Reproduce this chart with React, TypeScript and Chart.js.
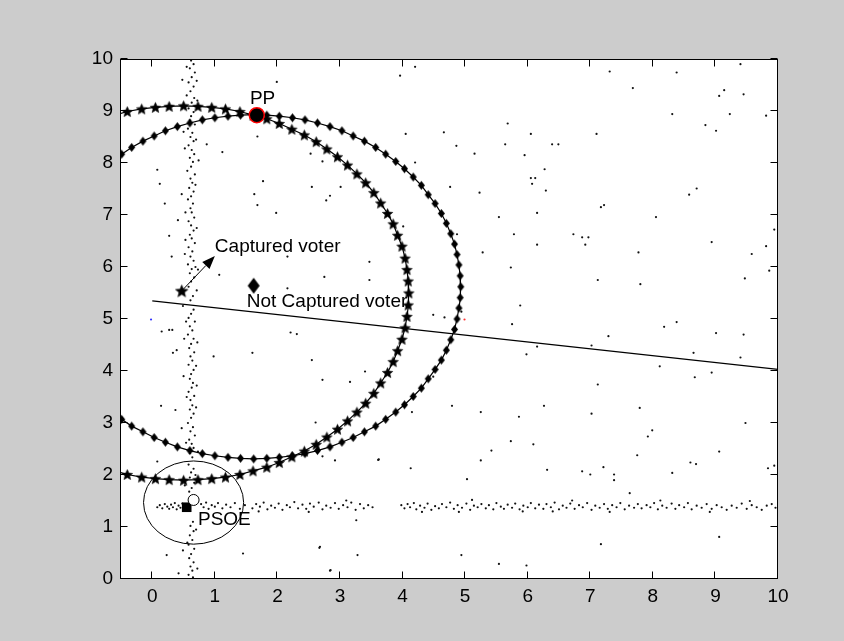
import { useEffect, useRef } from 'react';
import { Chart, registerables } from 'chart.js';

Chart.register(...registerables);

type P = [number, number];

const xTicks = [0, 1, 2, 3, 4, 5, 6, 7, 8, 9, 10];
const yTicks = [0, 1, 2, 3, 4, 5, 6, 7, 8, 9, 10];
const xRange: P = [-0.5, 10];
const yRange: P = [0, 10];

// PP indifference curve (pentagram markers)
const starCurve: P[] = [
  [-0.61, 8.92], [-0.40, 8.99], [-0.17, 9.04], [0.05, 9.07], [0.27, 9.09], [0.50, 9.10], [0.73, 9.09],
  [0.95, 9.07], [1.17, 9.04], [1.40, 8.99], [1.61, 8.92], [1.83, 8.85], [2.03, 8.76], [2.23, 8.65],
  [2.43, 8.54], [2.62, 8.41], [2.79, 8.27], [2.96, 8.12], [3.12, 7.96], [3.27, 7.79], [3.41, 7.62],
  [3.54, 7.43], [3.65, 7.23], [3.76, 7.03], [3.85, 6.83], [3.92, 6.61], [3.99, 6.40], [4.04, 6.17],
  [4.07, 5.95], [4.09, 5.73], [4.10, 5.50], [4.09, 5.27], [4.07, 5.05], [4.04, 4.83], [3.99, 4.61],
  [3.92, 4.39], [3.85, 4.18], [3.76, 3.97], [3.65, 3.77], [3.54, 3.57], [3.41, 3.38], [3.27, 3.21],
  [3.12, 3.04], [2.96, 2.88], [2.79, 2.73], [2.62, 2.59], [2.43, 2.46], [2.23, 2.35], [2.03, 2.24],
  [1.83, 2.15], [1.61, 2.08], [1.40, 2.01], [1.17, 1.96], [0.95, 1.93], [0.73, 1.91], [0.50, 1.90],
  [0.27, 1.91], [0.05, 1.93], [-0.17, 1.96], [-0.40, 2.01], [-0.61, 2.08],
];

// second curve (diamond markers)
const diamondCurve: P[] = [
  [-0.65, 8.03], [-0.49, 8.17], [-0.33, 8.30], [-0.15, 8.42], [0.03, 8.52], [0.21, 8.62], [0.40, 8.70],
  [0.60, 8.77], [0.80, 8.83], [1.00, 8.87], [1.21, 8.90], [1.41, 8.92], [1.62, 8.93], [1.83, 8.92],
  [2.03, 8.90], [2.24, 8.87], [2.44, 8.83], [2.64, 8.77], [2.84, 8.70], [3.03, 8.62], [3.21, 8.52],
  [3.39, 8.42], [3.57, 8.30], [3.73, 8.17], [3.89, 8.03], [4.03, 7.89], [4.17, 7.73], [4.30, 7.57],
  [4.41, 7.39], [4.52, 7.22], [4.62, 7.03], [4.70, 6.84], [4.77, 6.64], [4.83, 6.44], [4.87, 6.24],
  [4.90, 6.04], [4.92, 5.83], [4.93, 5.62], [4.92, 5.41], [4.90, 5.21], [4.87, 5.00], [4.83, 4.80],
  [4.77, 4.60], [4.70, 4.40], [4.62, 4.21], [4.52, 4.03], [4.41, 3.85], [4.30, 3.67], [4.17, 3.51],
  [4.03, 3.35], [3.89, 3.21], [3.73, 3.07], [3.57, 2.94], [3.39, 2.83], [3.21, 2.72], [3.03, 2.63],
  [2.84, 2.54], [2.64, 2.47], [2.44, 2.41], [2.24, 2.37], [2.03, 2.34], [1.83, 2.32], [1.62, 2.31],
  [1.41, 2.32], [1.21, 2.34], [1.00, 2.37], [0.80, 2.41], [0.60, 2.47], [0.40, 2.54], [0.21, 2.63],
  [0.03, 2.72], [-0.15, 2.83], [-0.33, 2.94], [-0.49, 3.07], [-0.65, 3.21],
];

const splitLine: P[] = [[0, 5.35], [10, 4.03]];

const verticalBandVoters: P[] = [
  [0.62, 9.97], [0.66, 9.9], [0.60, 9.82], [0.68, 9.74], [0.63, 9.65], [0.58, 9.55], [0.66, 9.47],
  [0.61, 9.38], [0.55, 9.3], [0.67, 9.25], [0.63, 9.16], [0.58, 9.05], [0.66, 8.98], [0.62, 8.9],
  [0.60, 8.82], [0.68, 8.74], [0.57, 8.66], [0.64, 8.58], [0.61, 8.5], [0.66, 8.42], [0.58, 8.34],
  [0.63, 8.25], [0.67, 8.17], [0.60, 8.1], [0.65, 8.02], [0.62, 7.93], [0.56, 7.85], [0.68, 7.78],
  [0.61, 7.7], [0.64, 7.62], [0.59, 7.52], [0.66, 7.45], [0.62, 7.36], [0.57, 7.3], [0.65, 7.22],
  [0.61, 7.13], [0.63, 7.05], [0.67, 6.95], [0.58, 6.88], [0.62, 6.8], [0.66, 6.7], [0.60, 6.62],
  [0.63, 6.55], [0.68, 6.46], [0.58, 6.38], [0.64, 6.3], [0.61, 6.2], [0.66, 6.12], [0.57, 6.05],
  [0.63, 5.96], [0.60, 5.88], [0.67, 5.8], [0.62, 5.72], [0.58, 5.62], [0.65, 5.44], [0.61, 5.36],
  [0.66, 5.18], [0.62, 5.1], [0.58, 5.02], [0.68, 4.95], [0.60, 4.86], [0.64, 4.78], [0.57, 4.7],
  [0.66, 4.62], [0.62, 4.52], [0.59, 4.44], [0.67, 4.36], [0.61, 4.28], [0.64, 4.2], [0.58, 4.12],
  [0.66, 4.02], [0.62, 3.94], [0.60, 3.85], [0.65, 3.77], [0.63, 3.68], [0.58, 3.6], [0.67, 3.52],
  [0.61, 3.44], [0.64, 3.34], [0.60, 3.26], [0.66, 3.18], [0.62, 3.1], [0.57, 3.0], [0.65, 2.92],
  [0.61, 2.84], [0.68, 2.76], [0.59, 2.68], [0.63, 2.6], [0.66, 2.52], [0.60, 2.42], [0.64, 2.34],
  [0.58, 2.2], [0.66, 2.12], [0.62, 2.05], [0.60, 1.95], [0.67, 1.85], [0.63, 1.75], [0.59, 1.68],
  [0.65, 1.1], [0.61, 1.02], [0.66, 0.92], [0.60, 0.84], [0.64, 0.75], [0.58, 0.66], [0.67, 0.58],
  [0.62, 0.48], [0.59, 0.4], [0.66, 0.32], [0.61, 0.24], [0.64, 0.16], [0.58, 0.08], [0.65, 0.03],
  [0.48, 9.6], [0.72, 9.2], [0.5, 8.6], [0.74, 8.05], [0.47, 7.4], [0.71, 6.75], [0.52, 6.25],
  [0.73, 5.95], [0.49, 5.25], [0.72, 4.55], [0.5, 3.9], [0.7, 3.3], [0.47, 2.9], [0.73, 2.45],
  [0.52, 1.8], [0.7, 0.95], [0.49, 0.55], [0.72, 0.2], [0.55, 9.85], [0.7, 8.45], [0.53, 7.05],
  [0.69, 6.0], [0.54, 4.95], [0.7, 4.1], [0.55, 3.5], [0.69, 2.0], [0.56, 0.7], [0.71, 9.58],
  [0.52, 8.28], [0.69, 7.58], [0.53, 6.52], [0.71, 5.55], [0.51, 4.62], [0.71, 3.72], [0.54, 2.62],
];

const horizontalBandVoters: P[] = [
  [0.08, 1.38], [0.12, 1.42], [0.16, 1.36], [0.2, 1.44], [0.24, 1.39], [0.27, 1.35], [0.3, 1.43],
  [0.33, 1.38], [0.36, 1.46], [0.39, 1.34], [0.42, 1.41], [0.45, 1.37], [0.48, 1.45], [0.51, 1.33],
  [0.78, 1.44], [0.82, 1.38], [0.86, 1.47], [0.9, 1.35], [0.95, 1.42], [1.0, 1.39], [1.05, 1.46],
  [1.12, 1.36], [1.18, 1.43], [1.25, 1.38], [1.32, 1.46], [1.4, 1.35], [1.48, 1.42],
  [1.6, 1.36], [1.66, 1.44], [1.72, 1.39], [1.78, 1.47], [1.84, 1.34], [1.9, 1.41], [1.96, 1.37],
  [2.02, 1.45], [2.08, 1.33], [2.15, 1.42], [2.2, 1.38], [2.27, 1.48], [2.33, 1.36], [2.4, 1.43],
  [2.46, 1.35], [2.52, 1.45], [2.58, 1.39], [2.66, 1.47], [2.72, 1.34], [2.78, 1.41], [2.85, 1.37],
  [2.92, 1.46], [2.98, 1.35], [3.05, 1.42], [3.12, 1.38], [3.18, 1.47], [3.25, 1.33], [3.32, 1.44],
  [3.38, 1.36], [3.45, 1.42], [3.52, 1.38],
  [3.98, 1.42], [4.03, 1.36], [4.08, 1.44], [4.12, 1.38], [4.18, 1.46], [4.22, 1.34], [4.28, 1.41],
  [4.35, 1.37], [4.4, 1.45], [4.46, 1.33], [4.52, 1.4], [4.58, 1.36], [4.63, 1.44], [4.7, 1.38],
  [4.76, 1.47], [4.82, 1.35], [4.88, 1.42], [4.95, 1.37], [5.02, 1.45], [5.08, 1.33], [5.14, 1.41],
  [5.2, 1.38], [5.26, 1.44], [5.33, 1.36], [5.38, 1.42], [5.45, 1.34], [5.5, 1.46], [5.57, 1.39],
  [5.62, 1.35], [5.68, 1.43], [5.75, 1.37], [5.8, 1.45], [5.87, 1.34], [5.93, 1.41], [6.0, 1.38],
  [6.05, 1.46], [6.12, 1.36], [6.18, 1.43], [6.25, 1.35], [6.3, 1.44], [6.37, 1.38], [6.43, 1.47],
  [6.5, 1.34], [6.56, 1.41], [6.62, 1.37], [6.68, 1.45], [6.75, 1.35], [6.82, 1.42], [6.88, 1.38],
  [6.95, 1.46], [7.02, 1.33], [7.08, 1.41], [7.15, 1.37], [7.22, 1.44], [7.28, 1.35], [7.35, 1.42],
  [7.42, 1.38], [7.48, 1.46], [7.55, 1.34], [7.62, 1.41], [7.7, 1.37], [7.76, 1.44], [7.82, 1.36],
  [7.9, 1.42], [7.96, 1.38], [8.02, 1.46], [8.08, 1.34], [8.15, 1.41], [8.22, 1.37], [8.3, 1.45],
  [8.36, 1.35], [8.42, 1.42], [8.5, 1.38], [8.56, 1.46], [8.62, 1.34], [8.7, 1.41], [8.78, 1.37],
  [8.86, 1.44], [8.94, 1.35], [9.02, 1.42], [9.1, 1.38], [9.18, 1.33], [9.26, 1.41], [9.34, 1.37],
  [9.42, 1.45], [9.5, 1.35], [9.58, 1.42], [9.66, 1.38], [9.74, 1.33], [9.82, 1.41], [9.9, 1.44],
  [9.96, 1.37], [2.5, 1.29], [3.1, 1.51], [4.31, 1.29], [5.11, 1.52], [5.92, 1.3], [6.71, 1.51],
  [7.31, 1.29], [8.12, 1.51], [8.91, 1.29], [9.55, 1.5], [1.7, 1.3], [4.9, 1.29], [6.4, 1.3],
];

const scatteredVoters: P[] = [
  [7.31, 9.76], [8.38, 9.74], [7.68, 9.44], [9.40, 9.90], [9.14, 9.40], [9.06, 9.29], [9.45, 9.32],
  [8.31, 8.94], [9.23, 8.94], [9.81, 8.91], [8.84, 8.73], [9.01, 8.62], [5.68, 8.76], [6.05, 8.56],
  [5.64, 8.36], [6.39, 8.36], [6.49, 8.36], [7.10, 8.56], [5.95, 8.15], [6.27, 7.88], [6.05, 7.71],
  [6.12, 7.71], [6.07, 7.60], [6.29, 7.47], [6.15, 7.04], [5.54, 6.96], [7.17, 7.15], [7.22, 7.19],
  [8.05, 6.96], [8.58, 7.39], [8.70, 7.51], [5.28, 6.28], [5.78, 6.63], [6.15, 6.43], [6.73, 6.63],
  [6.87, 6.57], [6.97, 6.57], [6.92, 6.43], [7.77, 6.28], [8.94, 6.48], [9.94, 6.72], [9.81, 6.40],
  [9.58, 6.25], [9.86, 5.93], [9.47, 5.78], [5.73, 5.99], [7.12, 5.75], [7.80, 5.67], [5.88, 5.26],
  [5.75, 4.90], [8.38, 4.94], [8.18, 4.85], [7.29, 4.67], [9.01, 4.73], [9.45, 4.70], [6.15, 4.47],
  [5.98, 4.32], [7.02, 4.49], [8.65, 4.35], [9.40, 4.26], [8.11, 4.09], [8.94, 3.97], [8.67, 3.88],
  [7.12, 3.74], [6.26, 3.33], [5.86, 3.12], [7.02, 3.18], [7.79, 3.29], [5.73, 2.65], [6.09, 2.59],
  [7.99, 2.86], [7.92, 2.74], [9.48, 3.00], [7.75, 2.38], [9.06, 2.45], [6.31, 2.10], [6.87, 2.07],
  [7.0, 2.01], [7.21, 2.15], [7.38, 2.01], [7.38, 1.90], [7.63, 1.65], [8.31, 2.04], [8.60, 2.24],
  [8.69, 2.21], [9.84, 2.13], [9.94, 2.18], [9.06, 0.81], [7.17, 0.67], [5.98, 0.26],
  [2.72, 3.83], [3.16, 3.79], [4.79, 3.33], [4.15, 3.21], [5.25, 3.21], [2.61, 3.01], [5.42, 2.47],
  [2.72, 2.36], [2.92, 2.28], [3.62, 2.30], [5.25, 2.28], [4.13, 2.13], [5.03, 1.92], [3.26, 1.13],
  [2.67, 0.60], [3.28, 0.46], [1.45, 0.49], [4.94, 0.46], [5.54, 0.29], [2.84, 0.16],
  [1.99, 9.56], [3.96, 9.68], [4.20, 9.85], [1.68, 8.51], [4.05, 8.56], [4.66, 8.59], [4.86, 8.33],
  [5.15, 8.18], [2.53, 8.18], [2.72, 8.03], [4.20, 8.01], [1.77, 7.65], [2.55, 7.54], [3.01, 7.54],
  [1.63, 7.40], [2.84, 7.37], [2.78, 7.28], [1.68, 7.19], [1.98, 7.04], [4.76, 7.54], [5.23, 7.43],
  [4.01, 6.78], [4.87, 6.63], [0.87, 8.36], [1.12, 8.21], [0.08, 7.87], [0.12, 7.60], [0.20, 7.22],
  [0.41, 6.90], [0.27, 6.60], [0.31, 6.20], [1.07, 5.85], [2.16, 6.20], [2.75, 5.81], [3.47, 6.10],
  [3.47, 5.75], [2.16, 5.59], [0.15, 4.76], [0.27, 4.79], [0.32, 4.79], [0.33, 4.35], [0.39, 4.40],
  [0.98, 4.28], [1.60, 4.35], [2.21, 4.74], [2.31, 4.71], [2.55, 4.21], [3.40, 3.99], [0.14, 3.33],
  [0.37, 3.25], [0.08, 2.26], [0.23, 0.46], [0.42, 0.11], [2.68, 0.62], [2.85, 0.17], [4.49, 5.08],
  [4.67, 5.03], [4.94, 5.14], [4.49, 3.89], [3.61, 2.29],
];
const blueVoter: P[] = [[-0.02, 4.99]];
const redVoter: P[] = [[4.99, 4.99]];

const ppPosition: P[] = [[1.67, 8.92]];
const psoePosition: P[] = [[0.66, 1.52]];
const psoeVoter: P[] = [[0.55, 1.38]];
const psoeCircleCenter: P = [0.66, 1.47];
const psoeCircleRadius = 0.8;
const capturedVoter: P[] = [[0.47, 5.54]];
const capturedArrowTip: P = [1.0, 6.21];
const notCapturedVoter: P[] = [[1.62, 5.64]];

const labelTexts = ['PP', 'PSOE', 'Captured voter', 'Not Captured voter'];
const labelAnchors: P[] = [[1.56, 9.23], [0.73, 1.14], [1.0, 6.39], [1.51, 5.33]];

const toXY = (a: P[]) => a.map(([x, y]) => ({ x, y }));

function makeStar(outer: number, inner: number): HTMLCanvasElement {
  const size = Math.ceil(outer * 2) + 2;
  const c = document.createElement('canvas');
  c.width = size;
  c.height = size;
  const g = c.getContext('2d')!;
  g.fillStyle = '#000';
  g.strokeStyle = '#000';
  g.lineWidth = 0.6;
  g.beginPath();
  for (let i = 0; i < 10; i++) {
    const r = i % 2 === 0 ? outer : inner;
    const a = -Math.PI / 2 + (i * Math.PI) / 5;
    const px = size / 2 + r * Math.cos(a);
    const py = size / 2 + 0.6 + r * Math.sin(a);
    if (i === 0) g.moveTo(px, py);
    else g.lineTo(px, py);
  }
  g.closePath();
  g.fill();
  g.stroke();
  return c;
}

function makeDiamond(w: number, h: number): HTMLCanvasElement {
  const c = document.createElement('canvas');
  c.width = w + 2;
  c.height = h + 2;
  const g = c.getContext('2d')!;
  g.fillStyle = '#000';
  g.beginPath();
  g.moveTo(c.width / 2, 1);
  g.lineTo(w + 1, c.height / 2);
  g.lineTo(c.width / 2, h + 1);
  g.lineTo(1, c.height / 2);
  g.closePath();
  g.fill();
  return c;
}

const TEXT_FONT = "19px 'Liberation Sans', Arial, sans-serif";

const figurePlugin = {
  id: 'matlabFigure',
  beforeDraw(chart: any) {
    const { ctx, chartArea: a, width, height } = chart;
    ctx.save();
    ctx.fillStyle = '#cccccc';
    ctx.fillRect(0, 0, width, height);
    ctx.fillStyle = '#ffffff';
    ctx.fillRect(a.left, a.top, a.right - a.left, a.bottom - a.top);
    ctx.restore();
  },
  beforeDatasetsDraw(chart: any) {
    const { ctx } = chart;
    const xs = chart.scales.x;
    const ys = chart.scales.y;
    ctx.save();
    ctx.fillStyle = '#000';
    ctx.font = TEXT_FONT;
    ctx.textAlign = 'left';
    ctx.textBaseline = 'middle';
    labelTexts.forEach((t, i) => {
      const [lx, ly] = labelAnchors[i];
      ctx.fillText(t, xs.getPixelForValue(lx), ys.getPixelForValue(ly));
    });
    ctx.restore();
  },
  afterDatasetsDraw(chart: any) {
    const { ctx, chartArea: a } = chart;
    const xs = chart.scales.x;
    const ys = chart.scales.y;
    ctx.save();
    // PSOE circle
    const cx = xs.getPixelForValue(psoeCircleCenter[0]);
    const cy = ys.getPixelForValue(psoeCircleCenter[1]);
    const rx = xs.getPixelForValue(psoeCircleCenter[0] + psoeCircleRadius) - cx;
    const ry = cy - ys.getPixelForValue(psoeCircleCenter[1] + psoeCircleRadius);
    ctx.strokeStyle = '#000';
    ctx.lineWidth = 1;
    ctx.beginPath();
    ctx.ellipse(cx, cy, rx, ry, 0, 0, Math.PI * 2);
    ctx.stroke();
    // arrow
    const x0 = xs.getPixelForValue(capturedVoter[0][0]);
    const y0 = ys.getPixelForValue(capturedVoter[0][1]);
    const x1 = xs.getPixelForValue(capturedArrowTip[0]);
    const y1 = ys.getPixelForValue(capturedArrowTip[1]);
    const ang = Math.atan2(y1 - y0, x1 - x0);
    const hl = 13;
    const hw = 5;
    const bx = x1 - hl * Math.cos(ang);
    const by = y1 - hl * Math.sin(ang);
    ctx.beginPath();
    ctx.moveTo(x0, y0);
    ctx.lineTo(bx, by);
    ctx.stroke();
    ctx.fillStyle = '#000';
    ctx.beginPath();
    ctx.moveTo(x1, y1);
    ctx.lineTo(bx - hw * Math.sin(ang), by + hw * Math.cos(ang));
    ctx.lineTo(bx + hw * Math.sin(ang), by - hw * Math.cos(ang));
    ctx.closePath();
    ctx.fill();
    // box
    const L = Math.round(a.left) - 0.5;
    const R = Math.round(a.right) - 0.5;
    const T = Math.round(a.top) + 0.5;
    const B = Math.round(a.bottom) - 0.5;
    ctx.lineWidth = 1;
    ctx.strokeStyle = '#000';
    ctx.strokeRect(L, T, R - L, B - T);
    const tl = 7;
    ctx.beginPath();
    xTicks.forEach((v) => {
      const px = Math.round(xs.getPixelForValue(v)) - 0.5;
      ctx.moveTo(px, B);
      ctx.lineTo(px, B - tl);
      ctx.moveTo(px, T);
      ctx.lineTo(px, T + tl);
    });
    yTicks.forEach((v) => {
      const py = Math.round(ys.getPixelForValue(v)) - 0.5;
      ctx.moveTo(L, py);
      ctx.lineTo(L + tl, py);
      ctx.moveTo(R, py);
      ctx.lineTo(R - tl, py);
    });
    ctx.stroke();
    ctx.restore();
  },
};

export default function App() {
  const ref = useRef<HTMLCanvasElement | null>(null);
  useEffect(() => {
    if (!ref.current) return;
    const star = makeStar(5.5, 2.5);
    const bigStar = makeStar(6.5, 2.9);
    const diamond = makeDiamond(7, 9);
    const bigDiamond = makeDiamond(12, 16);
    const dot = (data: P[], color: string, order: number) => ({
      data: toXY(data),
      showLine: false,
      pointStyle: 'circle',
      pointRadius: 1.1,
      pointBackgroundColor: color,
      pointBorderWidth: 0,
      order,
    });
    const tickFont = { family: "'Liberation Sans', Arial, sans-serif", size: 19 };
    const chart = new Chart(ref.current, {
      type: 'scatter',
      data: {
        datasets: [
          dot(verticalBandVoters, '#111111', 20),
          dot(horizontalBandVoters, '#111111', 20),
          dot(scatteredVoters, '#111111', 20),
          dot(blueVoter, '#3333ff', 20),
          dot(redVoter, '#ff3333', 20),
          {
            data: toXY(splitLine),
            showLine: true,
            borderColor: '#000',
            borderWidth: 1.2,
            pointRadius: 0,
            order: 15,
          },
          {
            data: toXY(starCurve),
            showLine: true,
            borderColor: '#000',
            borderWidth: 1.2,
            pointStyle: star,
            pointRadius: 4,
            order: 12,
          },
          {
            data: toXY(diamondCurve),
            showLine: true,
            borderColor: '#000',
            borderWidth: 1.2,
            pointStyle: diamond,
            pointRadius: 4,
            order: 11,
          },
          {
            data: toXY(capturedVoter),
            showLine: false,
            pointStyle: bigStar,
            pointRadius: 5,
            order: 6,
          },
          {
            data: toXY(notCapturedVoter),
            showLine: false,
            pointStyle: bigDiamond,
            pointRadius: 6,
            order: 6,
          },
          {
            data: toXY(psoeVoter),
            showLine: false,
            pointStyle: 'rect',
            pointRadius: 6.8,
            pointBackgroundColor: '#000',
            pointBorderWidth: 0,
            order: 5,
          },
          {
            data: toXY(psoePosition),
            showLine: false,
            pointStyle: 'circle',
            pointRadius: 5.5,
            pointBackgroundColor: '#fff',
            pointBorderColor: '#000',
            pointBorderWidth: 1,
            order: 4,
          },
          {
            data: toXY(ppPosition),
            showLine: false,
            pointStyle: 'circle',
            pointRadius: 7.5,
            pointBackgroundColor: '#000',
            pointBorderColor: '#ff0000',
            pointBorderWidth: 1.5,
            order: 3,
          },
        ] as any,
      },
      options: {
        animation: false,
        responsive: false,
        devicePixelRatio: 1,
        events: [],
        layout: { padding: { top: 59, right: 66, left: 0, bottom: 0 } },
        plugins: { legend: { display: false }, tooltip: { enabled: false } },
        scales: {
          x: {
            type: 'linear',
            position: 'bottom',
            min: xRange[0],
            max: xRange[1],
            afterBuildTicks: (s: any) => {
              s.ticks = xTicks.map((v) => ({ value: v }));
            },
            afterFit: (s: any) => {
              s.height = 62;
            },
            ticks: { color: '#000', font: tickFont, padding: 6, maxRotation: 0, autoSkip: false },
            grid: { display: false, drawTicks: false },
            border: { display: false },
          },
          y: {
            type: 'linear',
            position: 'left',
            min: yRange[0],
            max: yRange[1],
            afterBuildTicks: (s: any) => {
              s.ticks = yTicks.map((v) => ({ value: v }));
            },
            afterFit: (s: any) => {
              s.width = 121;
            },
            ticks: { color: '#000', font: tickFont, padding: 8, autoSkip: false },
            grid: { display: false, drawTicks: false },
            border: { display: false },
          },
        },
      } as any,
      plugins: [figurePlugin],
    });
    return () => chart.destroy();
  }, []);
  return (
    <div style={{ position: 'fixed', left: 0, top: 0, width: 844, height: 641, background: '#cccccc' }}>
      <canvas ref={ref} width={844} height={641} style={{ display: 'block', width: 844, height: 641 }} />
    </div>
  );
}
